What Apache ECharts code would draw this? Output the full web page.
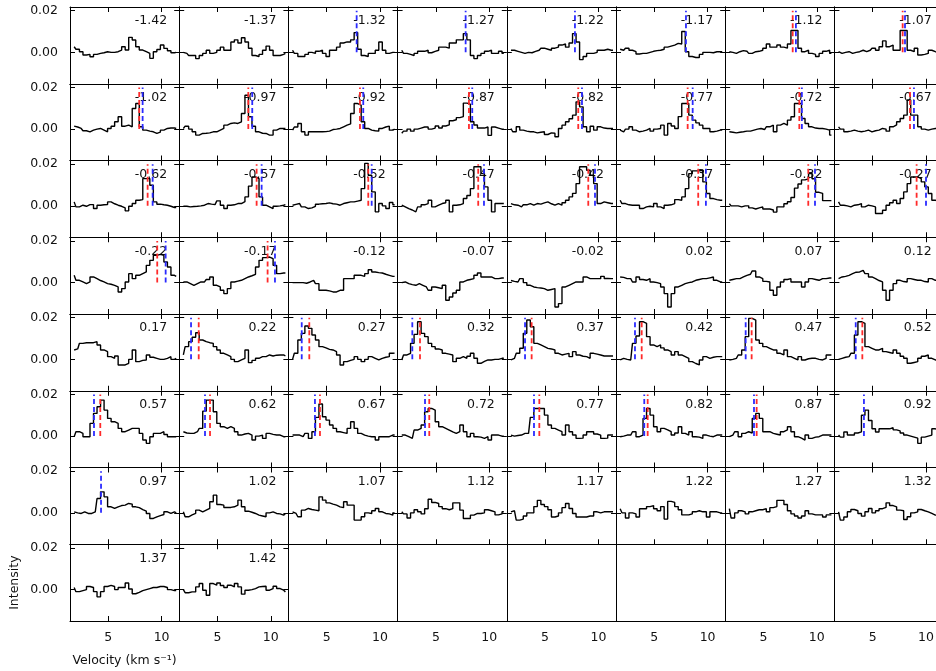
<!DOCTYPE html>
<html>
<head>
<meta charset="utf-8">
<script src="https://cdn.jsdelivr.net/npm/echarts@6/dist/echarts.min.js"></script>
<style>
html, body { margin: 0; padding: 0; background: #fff; }
#main { width: 936px; height: 671px; }
#err { position: absolute; left: 0; top: 0; font: 11px monospace; white-space: pre-wrap; color: #c00; }
</style>
</head>
<body>
<div id="main"></div>
<div id="err"></div>
<script>
// panel labels (offset of each spectrum)
var offsets = ['-1.42','-1.37','-1.32','-1.27','-1.22','-1.17','-1.12','-1.07',
  '-1.02','-0.97','-0.92','-0.87','-0.82','-0.77','-0.72','-0.67',
  '-0.62','-0.57','-0.52','-0.47','-0.42','-0.37','-0.32','-0.27',
  '-0.22','-0.17','-0.12','-0.07','-0.02','0.02','0.07','0.12',
  '0.17','0.22','0.27','0.32','0.37','0.42','0.47','0.52',
  '0.57','0.62','0.67','0.72','0.77','0.82','0.87','0.92',
  '0.97','1.02','1.07','1.12','1.17','1.22','1.27','1.32',
  '1.37','1.42'];

// velocity channels (km/s)
var velocity = [1.80,2.13,2.46,2.79,3.12,3.45,3.78,4.11,4.44,4.77,5.10,5.43,5.76,6.09,6.42,
  6.75,7.08,7.41,7.74,8.07,8.40,8.73,9.06,9.39,9.72,10.05,10.38,10.71,11.04,11.37];

// intensities, in units of 0.001
var spectra = [
  [2.7,1.5,0.3,-1.3,-1,-2.1,-1,-0.5,-0.2,0.3,0,0,0.3,1.1,2.7,1.1,7.2,5.9,2.7,1.1,0.3,-0.5,-2.9,0.3,1.4,3.5,1.9,0.8,-0.2,0],
  [0,-0.5,-1.5,-1.5,-3,-1.5,-0.5,1,-0.5,0,1,2.5,1,1,5,6,4.5,7,5,2,-1.5,-2,-1,1,3,1,-1.5,-1.5,-1,-0.5],
  [1,-0.5,-2,-2,-1,0,-0.5,0.5,1,-0.5,-2,1,1,2.5,4.5,5,5,6,9.5,1.5,-1.5,-2,-0.5,-0.5,1,5,1,-0.5,0,0],
  [1,-0.5,-1,-1.5,-0.5,0.5,0.5,1,-0.2,0.5,1,2.5,2.5,2,4.5,4.5,6,6,9,6,-1.5,-3,-1.5,-0.5,0.5,1,-0.5,-0.5,0.5,-0.5],
  [1,1,0.5,0,-0.5,0,-0.2,0.5,1,2,1.5,1,2,2.5,3.5,4,2.5,4.5,9,5,-3.5,-2,-0.5,-0.5,0,1,1,1.5,1,1],
  [1.5,1,2,1,0.3,-0.8,-0.5,-0.5,0,0.5,0.8,1,1.5,2.5,3,3.5,4.3,4,10,0.3,-2,-2.5,-2.5,-1,0,0,-0.2,0.3,0.3,0.3],
  [0.3,0,-0.5,0.3,0.8,0.5,-0.5,0.3,0.5,1,2,4,2.5,2.5,3.5,2.5,2,4,10.5,10.5,2,0.3,1,-0.5,-1,-2,-0.5,0.5,1,-0.5],
  [0.3,-0.5,0,0.3,-0.5,0,0.3,1,0.3,1,2,1,2.7,5.5,2.7,3.5,1,1,10.5,10.5,1,0.3,2,-1.3,-1,-0.5,1,0.3,0,0],
  [1.4,1,0.3,-0.8,-1.3,-0.5,0,0.3,-0.5,-1.3,0.3,1.4,3.5,5.9,1.4,1.9,1.1,9.9,12.3,1.1,-0.5,-1,-1.3,-2.1,-1.5,-0.5,0.3,0.5,0.6,0.3],
  [0.3,1.4,0,-1.3,-2.9,-2.1,-2,-1.8,-1.3,-1.3,-0.5,0.3,1.9,2.7,3,2.7,3.5,7.5,16.3,5.9,1.4,-1.3,-2,-2.1,-2.9,-2.9,-0.5,0.3,0.3,0.3],
  [-0.5,1,2.7,-1.3,-2.9,-1.3,-1.3,-1.3,-1.3,-1.2,-1,-0.2,0,0.3,1.1,1.9,2.5,7.5,12.3,11.5,3.5,0.3,-0.5,-0.8,-1,0.3,1,1.4,-0.5,0],
  [-2,-1,0,-1,0,0.5,1,1,0,0.5,1.5,0.5,1.5,2,4,4.5,5.5,6,12.5,12,3.5,2,0.5,0.5,1,-3,1,0.5,0,0],
  [0.3,-1.3,1.1,-0.5,-1,-1.3,-1.3,-1.8,-1.5,-1.3,-2.6,-1.8,-2,-3.7,0.3,1.9,3.5,5,6.7,13.1,10.7,1.1,-1.3,1.4,-0.5,1.1,0.5,0.3,0.3,0.3],
  [-0.5,-1.3,0,1.1,-0.5,-1.3,-1,-0.5,0.3,-1,0,0.3,1.9,-2.9,2.7,1.5,0.3,6,12.3,12.3,6.7,4.3,3,1.9,0.3,0.3,-1.3,-1,-0.5,-0.5],
  [-1.3,-1.5,-1.8,-1.5,-1.3,-1,-1,-0.5,0,0.3,-0.2,1.1,1.9,-1.3,1.9,2.7,1.9,4.3,5.9,12.3,12.3,5.1,2.7,1.1,0.5,0.3,0.3,0,-0.5,-2.9],
  [1.1,0,-1.3,-1,-0.5,-1,-1.3,-1,-0.5,-1.3,-0.8,-0.5,0.3,0,-1,1.1,2,3.5,5.1,6.7,14,6.7,6.7,1.1,0,-0.5,0,0.3,0.3,0.3],
  [1.9,-0.5,0.3,-0.2,0.6,0.6,-1.3,0.3,0.5,0.6,1.9,1,0.3,-0.2,-1,-2.4,-0.2,1.1,2.7,3,13.1,13.1,9.9,1.9,0.8,0.5,0.3,-0.2,-0.8,-0.8],
  [-0.2,-0.2,-0.5,-0.3,-0.2,0,0.3,1.1,0.8,0.6,2.4,0.3,-1.3,0.3,0.5,1.1,1.1,2,4.3,9.5,13.9,13.1,4.3,0.3,-0.5,-1.3,-0.2,0,0.3,0.6],
  [0.3,0.7,1.1,-0.5,-1.3,-1,-0.2,0.8,1,1.1,1.4,1,0.8,0.3,1.1,1.5,1.9,1.9,2.3,2.7,8.3,20.4,14.7,6.7,-2.9,1.1,0,-1.3,1.6,0.5],
  [0.3,-0.5,-1.3,-2,-2.9,-0.5,0.5,1.1,2.7,-0.5,0.3,1.1,1.5,2.7,-2.9,0.3,0.5,1.1,3.5,5,8.3,18.8,18.8,15.5,9.1,2.7,-2.9,1.1,1.1,1.1],
  [1.1,0.5,0.3,-0.5,0.5,1.1,0.3,1.1,0.8,1.4,1.9,1,0.3,1.1,0.3,1.5,2.7,4.3,6,10.7,18.8,18.8,17.1,14.7,10.7,1.1,1.9,1.5,1.1,1.1],
  [2.7,1.1,0.5,0.3,0.3,0.3,-1.3,-0.5,-0.2,-0.5,1.1,-0.5,-1.3,0.3,0.5,1.1,3,2.7,4.3,8.3,15.5,16.8,16.8,17.1,11.5,5.9,3.5,3,2.7,2.7],
  [1,0,0,-0.5,0,0,-1,-1.5,-1,-0.5,-1.5,-1.5,-2,-3,-0.5,-0.5,1,2,4,8.5,10.5,12.5,13,15.5,13,6.5,6,2.5,2.5,2.5],
  [1.9,0.3,0,-0.5,0.3,0.5,1.1,-0.5,0.3,0,-0.5,-3.7,-3.7,-2.1,0.3,1.5,2.7,1.1,3.5,6.7,10.7,13.9,13.9,13.1,11.5,9.1,5.9,2.7,2,2],
  [3.5,1.1,0.3,-0.5,0.3,2.7,1.9,1,0.3,-0.5,-0.8,-1.3,-2.1,-4.5,-2.9,0.3,4.3,1.9,3.5,4.3,5.1,8.3,10.7,13.1,13.6,13.1,9.9,7.5,3.5,3],
  [0.3,0.3,-0.5,-1.3,-0.5,0.3,0.3,1.5,2.7,-1.3,-2.1,-3.7,-5.3,-2.9,0.3,0.7,1.1,1.9,2.7,3.3,4,7.5,10.7,12,12.3,11.5,8.3,4.3,4.6,4.6],
  [0,0,0,0,-0.3,0.3,1.1,-0.5,-3.7,-3.7,-4,-4.5,-4.5,-3.7,-3.7,1.9,1.9,1.9,3.5,3.5,3,4.3,6.2,5.1,4.8,4.6,4,3.5,3,3],
  [0,0.3,-0.5,-1,-1.3,-0.5,-1.3,-2.1,-3.7,-2.1,-2.5,-2.9,-1.3,-8.5,-6.9,-5,-3.7,0.3,1.1,1.5,1.9,3.5,4.6,2.7,2.7,2.7,1.9,1.9,2.2,2.2],
  [1,0.6,0.3,1.9,0,-1.3,-2.1,-2.4,-2.6,-2.9,-3.7,-3.3,-2.9,-11.7,-10.1,-2.1,-1.3,-0.5,0.3,0.3,0.3,2.7,1.9,1.9,1.9,1.9,3,2,1.9,1.9],
  [2.7,2.5,1.9,1.9,0.3,2.7,1.5,1.1,1.9,0.3,0,-0.5,-2.1,-5.3,-11.7,-5.3,-2.1,-1.3,-0.5,0,0.3,1.1,1.5,1.9,1.9,2.3,2.7,1.1,0.3,0.3],
  [1.1,1.5,1.9,1.9,2.7,3.5,4,5.6,2.7,1.9,0.6,0.3,-3.7,-6.1,-2.1,0.3,1.5,1.9,0.3,0.3,0.3,-2.1,0.3,1.9,1.5,1.1,1.9,1.9,2.2,2.2],
  [1.9,2.7,3,3.5,4.3,5,5.1,5.9,4.3,2.7,1.9,1,0.3,-3.7,-8.5,-3.7,-0.5,1.1,0.5,0.3,1.9,1.5,1.1,1.1,0.5,0.3,1.9,1.1,1.1,1.1],
  [4.5,5,7.7,8,8,8,8.5,6.9,4.5,3.7,1.3,0.5,1.6,-2.7,-2.7,-1.9,0,4.5,-1.1,-0.5,-0.3,2.1,1,0.5,0,0,0.5,1.3,0,0.5],
  [2.1,6.1,8.5,10.6,12.8,9.3,8.5,8,7.7,6.1,4.5,2.9,2.1,1.3,0,-1.1,-0.3,0.5,4.5,-1.6,-0.5,0.5,1.3,1.3,2.1,1.6,2,2.1,2.1,1.6],
  [0,2.9,9.3,12.5,16,14.9,11.7,9.3,6.1,5.5,4.8,4.5,3.7,2.1,-2.7,-1.1,-0.5,0,1.3,0,-1.1,0,1.3,0.5,-0.3,0.5,1,1.3,2.9,3],
  [-0.3,2.1,2.9,7.7,12,18.1,12.5,10.9,7.7,6.1,5,4.5,2.9,2.5,2.1,-1.1,0.5,1.3,0.5,1.5,2.9,0.5,-1.9,-1,-0.3,-0.3,0,0,0.5,0.5],
  [-0.3,0.5,2.9,5.3,12.5,18.9,15.7,7.7,6.9,6.1,5.3,5,4.5,2.9,2.1,2.5,2.9,1.3,3.7,2.1,1.5,1.3,0.5,2.9,2.5,2.1,1.6,1.6,1.6,1.6],
  [-0.3,0.5,0,-0.3,7.7,11.2,18.1,17.3,10.9,6.9,6.1,6.9,5.5,4.5,3.7,2.1,3.7,2.1,1.3,0.5,-1.1,-2,-2.7,-0.3,1.3,0.5,1,1.3,1.3,1.3],
  [-0.3,0,0.5,2.1,4.5,10.9,19.7,18.9,9.3,7.7,6.1,5.3,4.5,4.5,2.9,2.1,4.5,1.3,0.5,-0.3,1.3,-0.3,0.3,0.5,0.5,0,-0.3,0.5,2.1,2.1],
  [0,0.5,1,1.3,2.9,11.7,18.1,17.3,6.1,5.3,4.5,4.5,5.3,3.7,3.3,2.9,4.5,2.9,1.5,0.5,-1.9,-1.5,-1.1,0.5,1.5,2.1,0.5,-0.3,-0.3,-0.3],
  [-0.3,2.1,1.3,-0.3,-0.3,6.1,10.9,14.1,17.3,12.5,8.5,6.9,6.1,3.7,2.1,2.9,3.7,3.7,3.7,1.3,-1.9,-3.5,-0.3,1.3,1.3,2.1,0.8,-0.3,-0.3,-0.3],
  [2.1,1.5,1.3,1.3,2.1,3.7,12,17.3,17.3,11.7,6.1,4.5,3.7,4.5,3.7,2.1,0.5,1,1.3,0.5,-1.9,0,0.5,-1.1,1.3,0.8,0.5,0.5,-0.3,-0.3],
  [0.5,0.5,0.5,-0.3,1.3,-1.1,2.1,9,15.4,9.3,7.7,5.3,3.7,2.1,1.7,1.3,3.7,6.9,3.7,1.3,0.5,0,-0.3,-0.3,-1.9,-0.3,-0.3,-0.3,0.5,0.5],
  [0.5,0.5,-0.3,-1.1,2.9,3.7,5.3,11.7,13.3,12.5,6.9,4.5,3.7,2.9,2,1.3,2.1,5.3,2.1,-0.3,1.3,-0.3,-0.5,-1.1,-0.3,-1.9,0.5,0.5,0,0],
  [0.5,0,0.3,0.5,1.3,1.3,9,13.3,13.3,13.3,10.1,5.3,3.7,2.9,2.1,0.5,5.3,2.1,0.5,-1.1,-1,0.5,2.1,2.1,1,0.5,-1.1,-1,0.5,0.5],
  [-0.3,0,0.5,0.5,2.1,-0.3,0.5,8.5,13.3,10.1,4.5,2.1,3.7,3,2.1,0.5,1.5,4.5,1.3,0.5,2.1,-0.3,-0.5,-1.1,0.5,0,-0.3,0.5,0.5,0.5],
  [-0.3,0.5,2.1,-0.3,1.3,2.1,1.5,8.5,10.9,8.5,2.1,2.1,1.3,0.9,0.5,2.1,3,4.5,2.1,-0.3,-1,-1.9,0.5,-1.1,-0.5,-0.3,0.5,0.5,0.5,0.5],
  [0.5,-0.5,2,0.5,0.5,1.5,2,10,12.5,7.5,3.5,2,3.5,3.5,3.5,4,3,2.5,1.5,0.5,0,-0.5,-1,-3.5,-0.5,0,0.5,3.5,3,3],
  [0.5,0,-0.3,0.5,-0.3,-0.3,0.5,6.9,10.1,7.7,2.9,2.1,2.9,3.5,3.7,4.5,4.2,2.9,2.5,1.6,0.8,-0.3,-2.7,-1.9,-1.3,-0.8,0.5,-0.3,0.5,0],
  [0.5,-1.9,-1,-0.3,1.3,0.5,1.3,2.1,5.3,8.5,4,3.7,2.6,2.6,2.9,3.7,6.1,2.9,0.8,0.3,-0.3,-1.1,-1.5,-1.9,0,0.5,-0.3,-0.5,-1.1,-0.3],
  [0.5,-0.3,-1.9,1.3,2.1,1.6,1.3,1,7.7,6.1,4.8,4.2,3.7,2.9,2.5,5.3,3.7,3.7,-3.5,-3.5,-1.9,0,-0.3,1,2.1,0.5,-0.3,-0.5,-1.1,0],
  [0.5,-0.5,-2.5,0,1.5,0.5,-0.5,2,6.5,5,4.5,3,2,1.5,2,4.8,4.8,1.3,-2.7,-2.7,-1.1,-0.3,-0.3,0,1.5,1,0.5,-1,-0.5,0.5],
  [0.5,1,-3.5,-3,-1.5,0,0,3,6,4,3,1.5,-2,-1.5,0,2.5,4.5,2.1,-0.3,-2,-2,-2,-1.5,-1.5,0.5,0,0.5,0.5,0.5,0.5],
  [2,0,-2.5,0,-0.5,-2,2,2,3,3.5,2,1,3,-3,5.5,5,3,1.5,-1,-1,-0.5,0.5,1,0.5,0.5,-2,0.5,0.5,0,0],
  [2,-2.5,0,1,0.5,-0.5,0.5,1,1.5,1.5,2,0.5,2.5,3,6,6,4,1,-0.5,-1.5,-2.5,-1.5,1,-0.5,-1,-1,-1,-2,-1,-1],
  [0.5,-3.5,-2,0.5,1.6,1,-0.3,-1.6,0.5,2.1,0,1,2,2.6,4.8,3.5,2.9,1.3,1,-3.2,-1.9,0,0.5,1.6,1,0.5,-0.3,-1.1,-1,-1],
  [1,-1,-0.5,0,1.5,1,-1,-3.5,-1,1.5,2,1.5,0,1,1,3.2,0.3,-2,-1.3,-0.5,0,0.5,1,1,1.5,1.5,1,0,-0.5,-0.5],
  [0,-1.5,-1.1,-1.1,1.3,2.9,-0.3,-2.7,2.9,2.1,3.2,2,1,2.1,1.3,2.9,1.3,-2.2,-0.3,0,0.5,1.3,1.5,1.6,-0.3,0.5,1.6,0.5,-0.3,-1.1]
];

// dashed marker velocities (km/s), null where a panel has none
var redLines = [null,null,null,null,null,null,7.74,7.81,7.90,7.89,8.12,8.10,8.11,8.13,8.36,8.50,
  8.69,8.67,8.90,8.97,9.05,9.12,9.20,9.12,9.59,9.70,null,null,null,null,null,null,
  null,3.24,3.37,3.51,3.74,3.82,3.89,4.03,4.25,4.30,4.37,4.38,4.46,4.38,4.36,null,
  null,null,null,null,null,null,null,null,null,null];
var blueLines = [null,null,7.81,7.79,7.80,7.97,8.04,8.03,8.22,8.26,8.43,8.41,8.46,8.60,8.60,8.87,
  9.16,9.14,9.22,9.51,9.68,9.84,9.83,10.0,10.38,10.39,null,null,null,null,null,null,
  null,2.52,2.66,2.79,3.12,3.19,3.33,3.41,3.66,3.83,3.90,3.98,3.96,4.06,4.11,4.18,
  4.32,null,null,null,null,null,null,null,null,null];

var xTicks = [5, 10];
var yTicks = [0, 0.02];

var NCOL = 8, NROW = 8;
var X0 = 70, Y0 = 7, CW = 109.2, RH = 76.75;
var XMIN = 1.41, XMAX = 11.65, YMIN = -0.0151, YMAX = 0.0218;
var FONT = 'DejaVu Sans';
var TXT = '#111';

function buildOption() {
    var grids = [], xAxes = [], yAxes = [], series = [], graphics = [];

    for (var k = 0; k < NCOL * NROW; k++) {
        var r = Math.floor(k / NCOL), c = k % NCOL;
        var gx = X0 + c * CW, gy = Y0 + r * RH;
        var filled = k < spectra.length;
        grids.push({left: gx, top: gy, width: CW, height: RH,
            containLabel: false, outerBoundsMode: 'none'});

        // x axes: bottom + top
        for (var p = 0; p < 2; p++) {
            var xpos = p === 0 ? 'bottom' : 'top';
            xAxes.push({
                gridIndex: k, type: 'value', position: xpos, min: XMIN, max: XMAX,
                axisLine: {show: true, onZero: false, lineStyle: {color: '#000', width: 1}},
                axisTick: {show: filled, inside: true, length: 5, customValues: xTicks,
                    lineStyle: {color: '#000', width: 1}},
                axisLabel: {show: xpos === 'bottom' && r === NROW - 1, customValues: xTicks,
                    margin: 10, color: TXT, fontFamily: FONT, fontSize: 12.5},
                splitLine: {show: false}
            });
        }
        // y axes: left + right
        for (var q = 0; q < 2; q++) {
            var ypos = q === 0 ? 'left' : 'right';
            yAxes.push({
                gridIndex: k, type: 'value', position: ypos, min: YMIN, max: YMAX,
                axisLine: {show: true, onZero: false, lineStyle: {color: '#000', width: 1}},
                axisTick: {show: filled, inside: true, length: 5, customValues: yTicks,
                    lineStyle: {color: '#000', width: 1}},
                axisLabel: {show: ypos === 'left' && c === 0, customValues: yTicks,
                    margin: 12, color: TXT, fontFamily: FONT, fontSize: 12.5,
                    formatter: function (v) { return v.toFixed(2); }},
                splitLine: {show: false}
            });
        }

        if (!filled) continue;

        var pts = [];
        for (var i = 0; i < velocity.length; i++) {
            pts.push([velocity[i], spectra[k][i] * 0.001]);
        }
        series.push({
            type: 'line', xAxisIndex: 2 * k, yAxisIndex: 2 * k,
            data: pts, step: 'middle', symbol: 'none', silent: true,
            lineStyle: {color: '#000', width: 1.4}, z: 2
        });

        var marks = [[redLines[k], '#ff2a2a'], [blueLines[k], '#2a2aff']];
        for (var m = 0; m < marks.length; m++) {
            if (marks[m][0] === null) continue;
            series.push({
                type: 'line', xAxisIndex: 2 * k, yAxisIndex: 2 * k,
                data: [[marks[m][0], 0], [marks[m][0], 0.02]], symbol: 'none', silent: true,
                lineStyle: {color: marks[m][1], width: 1.8, type: [5, 3]}, z: 3
            });
        }

        graphics.push({
            type: 'text', x: gx + CW - 12, y: gy + 14, z: 1, silent: true,
            style: {text: offsets[k], fill: TXT, font: '12.5px "DejaVu Sans"',
                align: 'right', verticalAlign: 'middle'}
        });
    }

    // axis titles
    graphics.push({
        type: 'text', x: X0 + CW / 2, y: 661, silent: true,
        style: {text: 'Velocity (km s\u207b\u00b9)', fill: TXT, font: '12.5px "DejaVu Sans"',
            align: 'center', verticalAlign: 'middle'}
    });
    graphics.push({
        type: 'text', x: 15, y: Y0 + (NROW - 0.5) * RH, rotation: Math.PI / 2, silent: true,
        style: {text: 'Intensity', fill: TXT, font: '12.5px "DejaVu Sans"',
            align: 'center', verticalAlign: 'middle'}
    });

    return {
        animation: false,
        backgroundColor: '#fff',
        grid: grids,
        xAxis: xAxes,
        yAxis: yAxes,
        series: series,
        graphic: graphics
    };
}

try {
    var myChart = echarts.init(document.getElementById('main'), null, {renderer: 'canvas'});
    myChart.setOption(buildOption());
} catch (e) {
    document.getElementById('err').textContent = String(e) + '\n' + (e.stack || '').slice(0, 3000);
}
</script>
</body>
</html>
